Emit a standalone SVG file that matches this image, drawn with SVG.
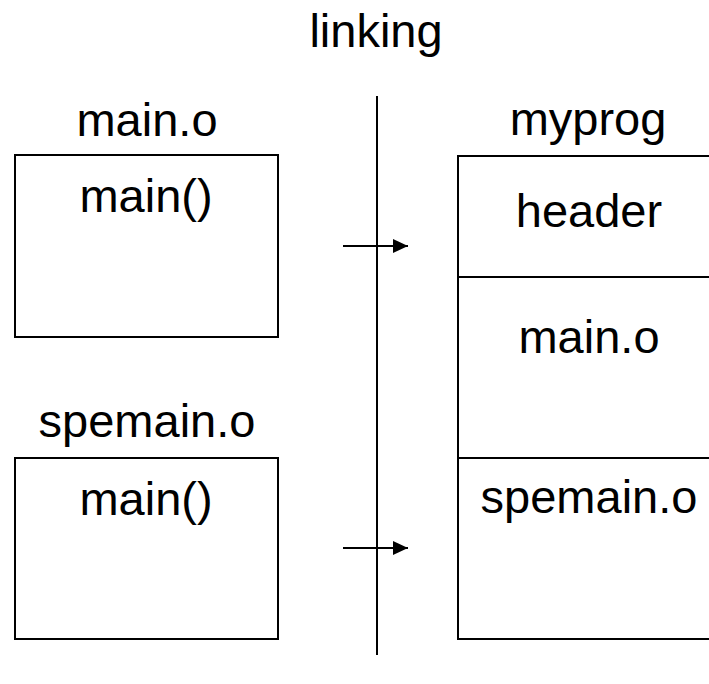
<svg xmlns="http://www.w3.org/2000/svg" width="709" height="684" viewBox="0 0 709 684">
  <style>
    .box { fill: #ffffff; stroke: #000000; stroke-width: 2; }
    .sep { stroke: #000000; stroke-width: 2; fill: none; }
    .lbl { font-family: "Liberation Sans", Arial, sans-serif; font-size: 47px; fill: #000000; text-anchor: middle; }
  </style>
  <defs>
    <marker id="arrow" markerWidth="16" markerHeight="14" refX="15" refY="7" orient="auto" markerUnits="userSpaceOnUse">
      <path d="M0,0 L15,7 L0,14 Z" fill="#000000"/>
    </marker>
  </defs>
  <rect width="709" height="684" fill="#ffffff"/>

  <text class="lbl" x="376" y="47">linking</text>

  <!-- input object files -->
  <g id="main-o">
    <text class="lbl" x="147" y="136">main.o</text>
    <rect class="box" x="15" y="155" width="263" height="182"/>
    <text class="lbl" x="146" y="212">main()</text>
  </g>
  <g id="spemain-o">
    <text class="lbl" x="147" y="437">spemain.o</text>
    <rect class="box" x="15" y="458" width="263" height="181"/>
    <text class="lbl" x="146" y="515">main()</text>
  </g>

  <!-- linked executable -->
  <g id="myprog">
    <text class="lbl" x="588" y="135">myprog</text>
    <rect class="box" x="458" y="156" width="265" height="483"/>
    <line class="sep" x1="458" y1="277" x2="723" y2="277"/>
    <line class="sep" x1="458" y1="458" x2="723" y2="458"/>
    <text class="lbl" x="589" y="227">header</text>
    <text class="lbl" x="589" y="353">main.o</text>
    <text class="lbl" x="589" y="513">spemain.o</text>
  </g>

  <g id="connectors">
    <line class="sep" x1="377" y1="96" x2="377" y2="655"/>
    <line class="sep" x1="343" y1="246" x2="408" y2="246" marker-end="url(#arrow)"/>
    <line class="sep" x1="343" y1="548" x2="408" y2="548" marker-end="url(#arrow)"/>
  </g>
</svg>
